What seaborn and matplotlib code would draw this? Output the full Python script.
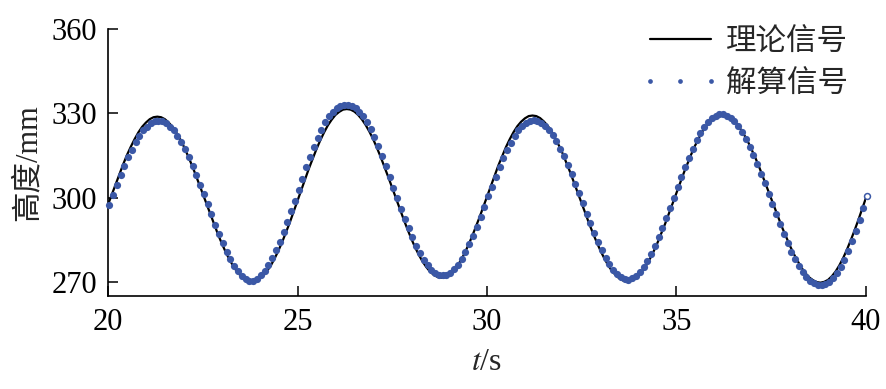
import numpy as np
import pandas as pd
import matplotlib
matplotlib.use("Agg")
import matplotlib.pyplot as plt
from matplotlib.lines import Line2D
import seaborn as sns

# ---------------- data ----------------
line_t0, line_step = 20.0, 0.1
theory_mm = [
    297.6, 301.2, 304.9, 308.5, 311.9, 315.2, 318.1, 320.8, 323.2, 325.2,
    326.7, 327.9, 328.6, 328.8, 328.6, 327.9, 326.7, 325.2, 323.2, 320.9,
    318.2, 315.2, 312.0, 308.6, 305.0, 301.4, 297.7, 294.1, 290.5, 287.1,
    283.9, 280.9, 278.2, 275.9, 273.9, 272.4, 271.2, 270.5, 270.3, 270.5,
    271.3, 272.5, 274.1, 276.1, 278.6, 281.4, 284.5, 287.9, 291.4, 295.2,
    299.0, 302.8, 306.6, 310.4, 313.9, 317.3, 320.4, 323.2, 325.7, 327.7,
    329.4, 330.5, 331.3, 331.5, 331.3, 330.6, 329.4, 327.8, 325.8, 323.4,
    320.7, 317.6, 314.3, 310.8, 307.2, 303.5, 299.7, 296.0, 292.4, 288.9,
    285.6, 282.5, 279.8, 277.4, 275.4, 273.8, 272.6, 271.9, 271.7, 271.9,
    272.7, 273.9, 275.6, 277.6, 280.1, 283.0, 286.1, 289.5, 293.0, 296.7,
    300.5, 304.2, 307.9, 311.5, 314.8, 318.0, 320.8, 323.3, 325.4, 327.0,
    328.2, 329.0, 329.2, 329.0, 328.3, 327.1, 325.6, 323.6, 321.2, 318.5,
    315.6, 312.3, 308.9, 305.3, 301.7, 298.0, 294.3, 290.7, 287.3, 284.1,
    281.1, 278.4, 276.0, 274.0, 272.5, 271.3, 270.6, 270.4, 270.6, 271.3,
    272.5, 274.1, 276.0, 278.4, 281.1, 284.1, 287.4, 290.8, 294.4, 298.1,
    301.8, 305.5, 309.1, 312.5, 315.8, 318.8, 321.5, 323.9, 325.8, 327.4,
    328.6, 329.3, 329.5, 329.3, 328.6, 327.6, 326.1, 324.2, 322.0, 319.5,
    316.6, 313.6, 310.3, 306.8, 303.3, 299.7, 296.1, 292.6, 289.1, 285.9,
    282.8, 280.0, 277.5, 275.2, 273.3, 271.8, 270.8, 270.1, 269.9, 270.2,
    270.9, 272.2, 273.9, 276.1, 278.7, 281.7, 285.0, 288.5, 292.2, 296.1,
    300.0,
]

dot_t0, dot_step = 20.03, 0.1
solved_mm = [
    297.6, 301.1, 304.6, 308.0, 311.3, 314.4, 317.1, 319.7, 322.0, 323.9,
    325.3, 326.4, 327.1, 327.3, 327.1, 326.5, 325.3, 323.9, 322.0, 319.8,
    317.2, 314.4, 311.4, 308.1, 304.7, 301.3, 297.7, 294.1, 290.5, 287.1,
    283.9, 280.9, 278.2, 275.9, 273.9, 272.4, 271.2, 270.5, 270.5, 271.3,
    272.5, 274.1, 276.1, 278.6, 281.4, 284.5, 287.9, 291.4, 295.2, 299.0,
    302.9, 306.8, 310.8, 314.5, 318.0, 321.2, 324.1, 326.8, 328.9, 330.6,
    331.8, 332.6, 332.8, 332.8, 332.6, 331.9, 330.6, 328.9, 326.9, 324.4,
    321.5, 318.3, 314.9, 311.2, 307.4, 303.6, 299.8, 296.2, 292.6, 289.2,
    286.0, 283.0, 280.4, 278.1, 276.1, 274.5, 273.4, 272.7, 272.5, 272.7,
    273.5, 274.6, 276.3, 278.2, 280.7, 283.5, 286.5, 289.8, 293.2, 296.8,
    300.5, 304.0, 307.5, 310.9, 314.0, 317.0, 319.6, 322.0, 323.9, 325.4,
    326.6, 327.3, 327.5, 327.3, 326.7, 325.5, 324.1, 322.2, 320.0, 317.4,
    314.7, 311.6, 308.4, 305.0, 301.6, 298.0, 294.4, 290.9, 287.5, 284.4,
    281.4, 278.8, 276.4, 274.4, 273.0, 271.8, 271.1, 270.9, 271.4, 272.4,
    273.8, 275.5, 277.6, 280.1, 282.9, 286.0, 289.3, 292.7, 296.3, 300.0,
    303.7, 307.4, 310.9, 314.3, 317.5, 320.4, 322.9, 325.1, 326.9, 328.3,
    329.2, 329.7, 329.7, 329.2, 328.4, 327.1, 325.4, 323.3, 321.0, 318.2,
    315.3, 312.1, 308.6, 305.1, 301.5, 297.9, 294.2, 290.6, 287.2, 283.9,
    280.9, 278.2, 275.7, 273.6, 271.8, 270.5, 269.7, 269.2, 269.2, 269.4,
    270.1, 271.5, 273.2, 275.5, 278.1, 281.2, 284.6, 288.2, 292.0, 296.4,
    300.8,
]

x_ticks = [20, 25, 30, 35, 40]
y_ticks = [270, 300, 330, 360]
labels = ["理论信号", "解算信号"]
x_label = r"$t$/s"
y_label = "高度/mm"

# ---------------- style ----------------
sns.set_style("ticks")
plt.rcParams["font.family"] = ["Liberation Serif", "Noto Sans CJK SC", "DejaVu Sans"]
plt.rcParams["mathtext.fontset"] = "stix"
plt.rcParams["axes.unicode_minus"] = False

line_color = "black"
dot_color = "#3b58a6"

t_line = np.round(line_t0 + line_step * np.arange(len(theory_mm)), 3)
t_dot = np.round(dot_t0 + dot_step * np.arange(len(solved_mm)), 3)
df_line = pd.DataFrame({"t": t_line, "h": theory_mm})
df_dot = pd.DataFrame({"t": t_dot, "h": solved_mm})

fig = plt.figure(figsize=(8.87, 3.89), dpi=100)
ax = fig.add_axes([0.1218, 0.2378, 0.8545, 0.6884])

sns.lineplot(data=df_line, x="t", y="h", ax=ax, color=line_color, lw=1.6,
             zorder=2, legend=False)
filled = df_dot.iloc[:-1]
hollow = df_dot.iloc[-1:]
sns.scatterplot(data=filled, x="t", y="h", ax=ax, color=dot_color, s=27,
                linewidth=0, zorder=3, legend=False, clip_on=False)
sns.scatterplot(data=hollow, x="t", y="h", ax=ax, facecolor="white",
                edgecolor=dot_color, s=18, linewidth=1.1, zorder=3,
                legend=False, clip_on=False)

ax.set_xlim(20, 40)
ax.set_ylim(265, 360)
ax.set_xticks(x_ticks)
ax.set_yticks(y_ticks)
ax.set_xticklabels([str(v) for v in x_ticks])
ax.set_yticklabels([str(v) for v in y_ticks])

ax.tick_params(axis="both", direction="in", length=7, width=1.1,
               labelsize=22, colors="black")
ax.tick_params(axis="x", pad=8)
ax.tick_params(axis="y", pad=8)
for side in ["top", "right"]:
    ax.spines[side].set_visible(False)
for side in ["left", "bottom"]:
    ax.spines[side].set_linewidth(1.2)
    ax.spines[side].set_color("black")

ax.set_xlabel(x_label, fontsize=23, labelpad=8)
ax.set_ylabel(y_label, fontsize=22, labelpad=6)

handles = [
    Line2D([], [], color=line_color, lw=1.6),
    Line2D([], [], color=dot_color, ls="none", marker="o", markersize=3.4,
           markeredgewidth=0),
]
ax.legend(handles, labels, loc="upper right",
          bbox_to_anchor=(848 / 887, 1 - 28 / 389),
          bbox_transform=fig.transFigure, frameon=False, fontsize=22,
          numpoints=3, handlelength=2.6, handletextpad=0.2,
          labelspacing=0.42, borderpad=0, borderaxespad=0)

fig.savefig("out.png", dpi=100)
